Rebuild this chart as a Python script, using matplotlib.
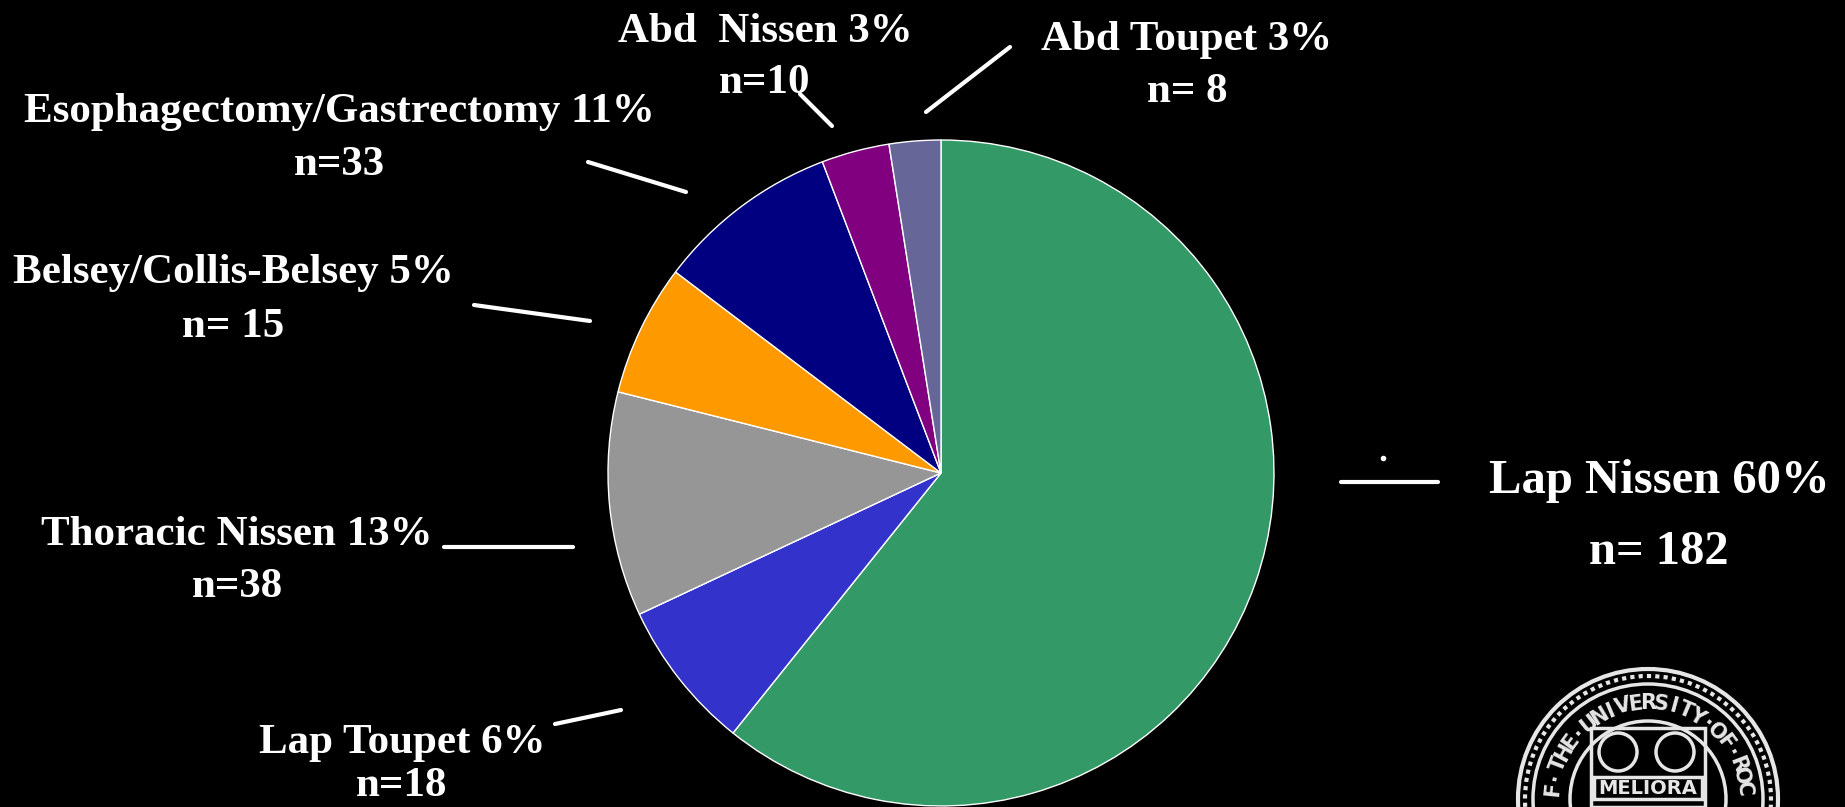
import numpy as np
import matplotlib.pyplot as plt
from matplotlib.patches import Circle, Rectangle

# data
procedures = ["Lap Nissen", "Lap Toupet", "Thoracic Nissen", "Belsey/Collis-Belsey",
              "Esophagectomy/Gastrectomy", "Abd  Nissen", "Abd Toupet"]
counts = [182, 18, 38, 15, 33, 10, 8]
pct_labels = ["60%", "6%", "13%", "5%", "11%", "3%", "3%"]
n_labels = ["n= 182", "n=18", "n=38", "n= 15", "n=33", "n=10", "n= 8"]
# the drawn wedges do not follow the counts exactly; shares (%)
wedge_share = [60.8, 7.3, 10.9, 6.4, 8.9, 3.3, 2.5]
colors = ["#339966", "#3333CC", "#969696", "#FF9900", "#000080", "#800080", "#666699"]

W, H = 1845, 807
FONT = "Liberation Serif"

# label layout in pixel coords (x centre, baseline line 1, baseline line 2, font size)
label_pos = [(1659, 493, 564, 35), (402, 753, 796, 31), (237, 545, 597, 31),
             (233, 283, 337, 31), (339, 122, 175, 31), (765, 42, 93, 31),
             (1187, 50, 102, 31)]
# leader lines (x0, y0, x1, y1) in pixel coords
leaders = [(1341, 482, 1438, 482), (555, 724, 621, 710), (444, 547, 573, 547),
           (474, 305, 590, 321), (588, 162, 686, 192), (800, 94, 832, 126),
           (1010, 47, 926, 112)]


def py(y):
    return H - y


fig = plt.figure(figsize=(W / 100, H / 100), dpi=100, facecolor="black")
ax = fig.add_axes([0, 0, 1, 1])
ax.set_facecolor("black")

ax.pie(wedge_share, colors=colors, startangle=90, counterclock=False,
       center=(941, py(473)), radius=333,
       wedgeprops=dict(edgecolor="white", linewidth=1))

for (name, pct, n), (x, y1, y2, fs) in zip(zip(procedures, pct_labels, n_labels), label_pos):
    ax.text(x, py(y1), f"{name} {pct}", color="white", fontsize=fs, fontweight="bold",
            family=FONT, ha="center", va="baseline")
    ax.text(x, py(y2), n, color="white", fontsize=fs, fontweight="bold",
            family=FONT, ha="center", va="baseline", clip_on=False)

for x0, y0, x1, y1 in leaders:
    ax.plot([x0, x1], [py(y0), py(y1)], color="white", lw=3, solid_capstyle="round")
ax.plot([1383], [py(458)], "o", color="white", ms=3)

# rough sketch of the university seal, bottom right (cut by the slide edge)
cx, cy, r = 1648, py(799), 130
seal = "#e6e6e6"
ax.add_patch(Circle((cx, cy), r, facecolor="black", edgecolor=seal, lw=3))
ax.add_patch(Circle((cx, cy), r - 7, facecolor="none", edgecolor=seal, lw=3, ls=(0, (1, 1))))
ax.add_patch(Circle((cx, cy), r - 15, facecolor="none", edgecolor=seal, lw=2.5))
ax.add_patch(Circle((cx, cy), r - 52, facecolor="none", edgecolor=seal, lw=2.5))
ring_text = "SEAL·OF·THE·UNIVERSITY·OF·ROCHESTER"
angles = np.linspace(220, -40, len(ring_text))
for ch, a in zip(ring_text, angles):
    t = np.deg2rad(a)
    tx, ty = cx + 96 * np.cos(t), cy + 96 * np.sin(t)
    if ty < 12:
        continue
    ax.text(tx, ty, ch, color=seal, fontsize=15, fontweight="bold",
            family="DejaVu Sans Condensed", ha="center", va="center",
            rotation=a - 90)
ax.add_patch(Rectangle((1591, py(807)), 114, 807 - 728, facecolor="none", edgecolor=seal, lw=2.5))
ax.add_patch(Circle((1618, py(752)), 19, facecolor="none", edgecolor=seal, lw=2.5))
ax.add_patch(Circle((1675, py(752)), 19, facecolor="none", edgecolor=seal, lw=2.5))
ax.add_patch(Rectangle((1594, py(799)), 108, 22, facecolor="none", edgecolor=seal, lw=2.5))
ax.text(1648, py(788), "MELIORA", color=seal, fontsize=14, fontweight="bold",
        family="DejaVu Sans Condensed", ha="center", va="center")

ax.set_xlim(0, W)
ax.set_ylim(0, H)
ax.set_aspect("equal")
ax.axis("off")

fig.savefig("out.png", dpi=100, facecolor="black")
